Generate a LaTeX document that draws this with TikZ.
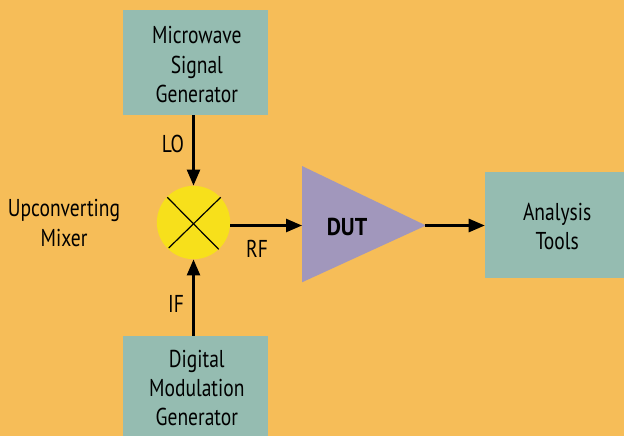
\documentclass[tikz,border=0pt]{standalone}
\usepackage{fontspec}
\setmainfont[FakeStretch=0.8]{PT Sans}
\newfontfamily\dutfont[FakeStretch=0.9]{PT Sans}
\usetikzlibrary{arrows.meta}
\definecolor{bgc}{HTML}{F6BD58}
\definecolor{boxc}{HTML}{95BCB1}
\definecolor{mixc}{HTML}{F7E01B}
\definecolor{dutc}{HTML}{A197BC}
\newcommand{\lnA}{\rule{0pt}{16pt}}
\tikzset{
  lbl/.style={font=\fontsize{18.3}{21.8}\selectfont,text=black,align=center,inner sep=0pt},
  boxn/.style={fill=boxc,draw=none,inner sep=0pt,minimum width=108.75pt,lbl},
  conn/.style={line width=1.8pt,-{Triangle[length=12pt,width=9.8pt]}},
  xl/.style={line width=0.9pt,black}
}
\begin{document}
\begin{tikzpicture}[x=0.75pt,y=-0.75pt]
\useasboundingbox (0,0) rectangle (624,436);
\fill[bgc] (0,0) rectangle (624,436);
\node[boxn,minimum height=78.75pt] (mw) at (195.5,62.5) {\lnA\hspace*{2pt}Microwave\\\hspace*{2pt}Signal\\\hspace*{2pt}Generator};
\node[boxn,minimum height=75pt] (dm) at (195.5,386) {\lnA\hspace*{2pt}Digital\\\hspace*{2pt}Modulation\\\hspace*{2pt}Generator};
\node[fill=boxc,inner sep=0pt,minimum width=104.25pt,minimum height=79.5pt,lbl] (an) at (554.5,224.8) {\lnA\hspace*{4pt}Analysis\\\hspace*{4pt}Tools};
\node[circle,fill=mixc,inner sep=0pt,minimum size=55pt] (mix) at (193.5,222.5) {};
\coordinate (c1) at (167.3,197.3);
\coordinate (c2) at (218.7,249.3);
\coordinate (c3) at (220.7,197.3);
\coordinate (c4) at (168.7,248);
\draw[xl] (c1) -- (c2);
\draw[xl] (c3) -- (c4);
\coordinate (ta) at (302,166);
\coordinate (tb) at (302,282.3);
\coordinate (tc) at (426,225.5);
\fill[dutc] (ta) -- (tc) -- (tb) -- cycle;
\node[font=\fontsize{18.3}{20}\selectfont\dutfont\bfseries,inner sep=0pt] (dut) at (347,227) {DUT};
\draw[conn] (mw.south -| mix) -- (mix.north);
\draw[conn] (dm.north -| mix) -- (mix.south);
\draw[conn] (mix.east |- tc) -- (ta |- tc);
\draw[conn] ([xshift=-1pt]tc) -- (an.west |- tc);
\node[lbl] (lo) at (173,144) {LO};
\node[lbl] (if) at (176,304) {IF};
\node[lbl] (rf) at (257,249) {RF};
\node[lbl] (um) at (64,223) {Upconverting\\Mixer};
\end{tikzpicture}
\end{document}
